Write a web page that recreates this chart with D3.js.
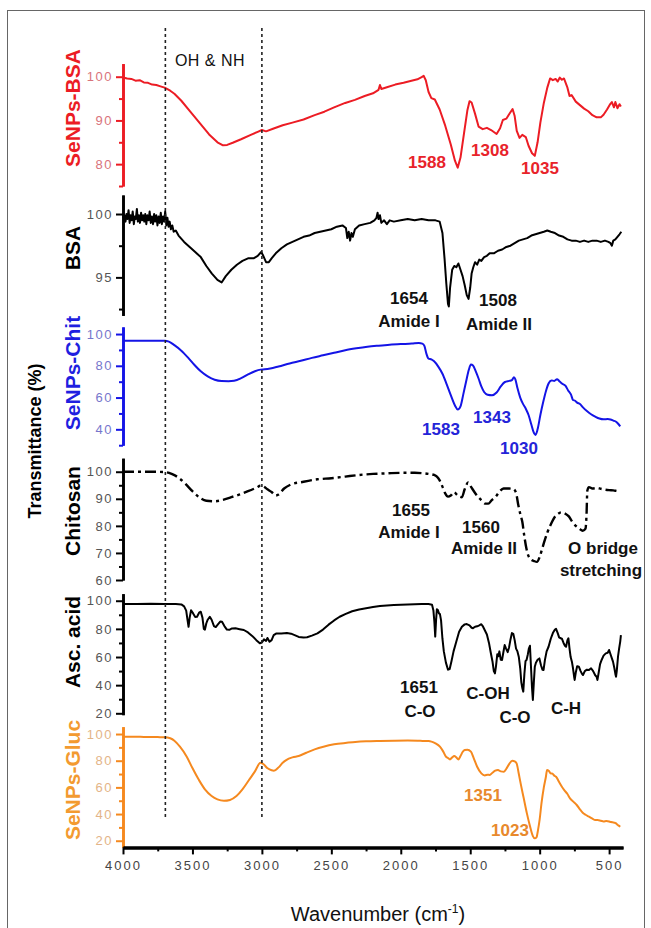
<!DOCTYPE html>
<html>
<head>
<meta charset="utf-8">
<script src="https://cdn.jsdelivr.net/npm/d3@7"></script>
<style>
  body { margin: 0; background: #fff; }
  svg text { font-family: "Liberation Sans", Arial, sans-serif; }
</style>
</head>
<body>
<div id="chart"></div>
<script>
// wavenumber axis
const wnTicks = [4000, 3500, 3000, 2500, 2000, 1500, 1000, 500];
const wnMinor = [3750, 3250, 2750, 2250, 1750, 1250, 750];
const regionLines = [3695, 3000];

// spectra, [wavenumber, transmittance %]
const seBsa = [[4000,99.8],[3970,99.6],[3940,99.5],[3910,99.1],[3880,99.2],[3850,98.7],[3820,98.6],[3790,98.2],[3760,98.1],[3730,97.8],[3700,97.5],[3660,96.8],[3630,96.1],[3580,94.5],[3520,92.2],[3450,89.5],[3380,86.8],[3320,85],[3280,84.3],[3250,84.4],[3210,84.9],[3150,85.7],[3080,86.7],[3030,87.4],[3000,87.8],[2970,87.5],[2920,88.1],[2850,88.9],[2780,89.5],[2700,90.2],[2620,91.2],[2550,92],[2480,93],[2400,94],[2330,94.7],[2260,95.6],[2200,96.2],[2160,97],[2150,98.1],[2140,97.2],[2100,97.6],[2040,98.2],[1980,98.6],[1930,99],[1880,99.4],[1850,99.9],[1835,100.2],[1820,99.2],[1800,96.5],[1780,95.1],[1755,94.8],[1720,92.5],[1680,88.8],[1640,84.5],[1610,80.8],[1590,79.2],[1570,81.5],[1545,87],[1520,92.4],[1505,94.4],[1490,94.1],[1465,91.5],[1440,88.6],[1410,88],[1380,88.3],[1350,87.8],[1310,86.9],[1285,88.2],[1265,90.1],[1240,90.4],[1220,91.4],[1195,92.6],[1180,91],[1165,87.6],[1145,86],[1125,86.7],[1100,86.2],[1080,84.2],[1055,82.5],[1035,81.9],[1015,85],[995,89.5],[970,94],[945,97.5],[925,99.6],[905,99.2],[885,99.5],[870,98.9],[855,99.8],[840,99.3],[825,99.6],[800,97.5],[785,95.6],[770,95.8],[740,94.3],[710,93.5],[680,92.7],[650,92.1],[620,91.2],[590,90.7],[560,90.7],[540,91.3],[515,92.5],[495,93.6],[480,94.2],[465,93],[455,94.2],[440,92.8],[425,93.7],[415,93.2]];

const bsa = [[4000,99.7],[3990,99.9],[3982,99.4],[3975,100],[3968,99.6],[3960,100.3],[3952,99.3],[3945,99.9],[3938,99.5],[3930,100.2],[3922,99.2],[3915,99.8],[3908,99.6],[3900,100.4],[3893,99.4],[3886,99.9],[3878,99.3],[3870,100.1],[3862,99.5],[3855,99.9],[3847,99.4],[3840,100],[3832,99.2],[3825,99.9],[3816,99.5],[3808,100.2],[3800,99.3],[3792,99.8],[3784,99.2],[3776,100],[3768,99.4],[3760,99.9],[3752,99.1],[3744,99.8],[3736,99.3],[3728,100.1],[3720,99.2],[3712,99.8],[3704,99.4],[3696,100.2],[3688,99.1],[3680,99.7],[3672,99],[3664,99.4],[3655,98.8],[3645,99.1],[3635,98.6],[3620,98.7],[3600,98.3],[3560,97.8],[3520,97.4],[3480,97],[3440,96.6],[3400,95.9],[3360,95.3],[3320,94.8],[3290,94.6],[3260,95.1],[3220,95.6],[3180,96],[3140,96.3],[3100,96.5],[3060,96.5],[3030,96.7],[3005,97],[2990,96.7],[2970,96.2],[2950,96.2],[2930,96.5],[2900,96.9],[2860,97.3],[2820,97.6],[2780,97.8],[2740,98],[2700,98.2],[2660,98.3],[2620,98.5],[2580,98.6],[2540,98.7],[2500,98.8],[2460,99],[2420,99.1],[2395,98.9],[2385,98.1],[2375,98.6],[2365,97.9],[2355,98.5],[2345,98.2],[2330,98.8],[2300,99.1],[2260,99.2],[2220,99.3],[2190,99.5],[2175,99.7],[2167,100.1],[2160,99.6],[2150,99.9],[2140,99.3],[2120,99.5],[2100,99.2],[2080,99.5],[2050,99.4],[2000,99.5],[1950,99.6],[1900,99.5],[1850,99.6],[1800,99.5],[1750,99.5],[1720,99.4],[1700,98.5],[1685,96.5],[1672,94.5],[1660,92.9],[1654,92.7],[1645,94.2],[1630,95.6],[1615,95.9],[1600,95.8],[1585,96.1],[1570,95.6],[1555,95.1],[1540,94.4],[1525,93.6],[1512,93.3],[1500,94.2],[1490,95.3],[1478,95.8],[1465,96.2],[1450,96],[1435,96.4],[1420,96.3],[1400,96.6],[1380,96.7],[1360,96.9],[1330,96.9],[1300,97.1],[1270,97.2],[1240,97.4],[1210,97.5],[1180,97.7],[1150,97.9],[1120,98],[1090,98.1],[1060,98.3],[1030,98.4],[1000,98.5],[970,98.6],[945,98.7],[920,98.6],[890,98.5],[860,98.3],[830,98.2],[800,98],[770,97.9],[740,97.9],[710,97.8],[680,97.9],[650,97.8],[620,97.9],[590,97.9],[560,97.8],[530,97.9],[505,97.8],[490,97.7],[480,97.5],[470,97.9],[455,98],[440,98.2],[425,98.4],[412,98.6]];

const seChit = [[4000,95.8],[3900,95.8],[3800,95.8],[3700,95.7],[3670,95.2],[3630,93],[3580,89.5],[3530,85],[3485,80.5],[3440,76.5],[3390,73.3],[3340,71.2],[3290,70.4],[3240,70.3],[3200,70.6],[3150,72.2],[3100,74.6],[3050,76.6],[3010,77.6],[2980,77.8],[2940,78.3],[2880,79.6],[2800,81.5],[2720,83.2],[2640,85],[2560,86.6],[2480,88.2],[2400,89.8],[2320,91],[2240,92],[2160,92.7],[2080,93.3],[2000,93.7],[1920,94],[1870,94.4],[1845,94],[1830,92.5],[1815,87.5],[1800,84.5],[1780,84],[1760,82.8],[1730,79.5],[1700,75],[1670,68.5],[1640,61.5],[1610,55],[1590,52.5],[1570,54.5],[1550,62],[1530,70],[1510,77.5],[1495,80.8],[1480,80.2],[1460,76.5],[1440,72],[1420,67],[1400,63.5],[1375,61.8],[1343,61.5],[1310,63.2],[1280,67],[1250,69.8],[1220,70.5],[1200,71],[1185,72.8],[1175,71.5],[1160,66],[1140,60],[1120,56],[1100,53],[1080,49],[1060,43],[1045,38.5],[1030,36.5],[1015,40],[995,49],[975,57],[955,64],[935,69],[915,70.8],[895,70.5],[875,71.5],[860,70.5],[840,68.8],[815,67.5],[795,64.5],[775,62],[760,58.5],[745,58],[730,56.8],[710,56],[690,54],[660,51.5],[630,49.5],[600,48],[570,46.8],[540,46.3],[510,46.5],[490,46.2],[470,45.5],[450,44.8],[435,43.5],[420,41.8]];

const chitosan = [[4000,100],[3900,100],[3800,100],[3700,99.9],[3650,99.2],[3600,97.8],[3550,95.5],[3500,92.8],[3450,90.5],[3400,89.3],[3340,89.1],[3280,89.6],[3220,90.6],[3160,91.6],[3100,92.8],[3040,94.1],[3010,94.8],[2990,94.6],[2960,93.5],[2930,92.5],[2900,91.2],[2880,91.6],[2840,93.8],[2795,95.2],[2700,96.3],[2600,97.2],[2500,97.6],[2400,98.2],[2300,98.8],[2200,99.2],[2100,99.4],[2000,99.6],[1900,99.6],[1800,99.2],[1760,98.8],[1740,98.2],[1720,96.8],[1700,94.5],[1680,92],[1660,90.8],[1640,91.2],[1617,92.5],[1590,91.2],[1560,90.6],[1540,93.5],[1515,96],[1495,94.5],[1470,92.5],[1445,90.8],[1420,89.5],[1390,88.2],[1370,88.2],[1345,89.5],[1316,90.8],[1290,92.6],[1260,93.8],[1220,93.8],[1190,93.6],[1170,92.2],[1155,88],[1140,84.5],[1125,81.5],[1110,76],[1095,71.5],[1080,68.8],[1060,67.5],[1040,67],[1020,66.7],[1000,68.5],[985,71],[970,73.6],[945,77.5],[920,80.5],[895,83],[870,84.3],[845,85],[815,84.5],[790,83.5],[765,81.5],[740,80],[715,79],[690,78.2],[670,79],[662,85],[657,93],[645,94.3],[620,93.8],[590,94],[560,93.7],[530,93.4],[500,93.2],[470,93.1],[445,92.9],[420,92.7]];

const ascAcid = [[4000,97.6],[3900,97.6],[3800,97.8],[3700,97.6],[3620,97.7],[3580,97.4],[3560,96],[3545,93],[3535,86],[3528,81.5],[3520,88],[3510,93.2],[3495,91],[3480,88.5],[3467,88.6],[3452,91.5],[3440,92.2],[3428,88],[3418,80],[3410,79.5],[3400,84],[3390,86.5],[3375,88.6],[3362,86.5],[3345,82],[3332,81.3],[3318,83],[3300,85.2],[3287,85],[3270,82],[3252,79.5],[3235,79.3],[3215,80.3],[3190,80.4],[3160,79.8],[3130,79.2],[3100,77.5],[3070,75],[3040,72],[3015,69.8],[3000,70.3],[2985,72.5],[2970,71.5],[2960,73.5],[2945,70.8],[2930,72],[2915,75.5],[2895,76.8],[2860,76.7],[2820,77],[2790,76.6],[2760,75.4],[2735,74.3],[2700,73.8],[2675,74],[2640,75.2],[2600,76.8],[2560,79.5],[2520,83],[2480,86],[2440,88.6],[2400,90.5],[2350,92.5],[2300,93.8],[2250,94.7],[2200,95.5],[2150,96.2],[2100,96.6],[2050,96.9],[2000,97.2],[1950,97.4],[1900,97.5],[1850,97.6],[1800,97.6],[1775,97.2],[1765,93],[1758,85],[1752,74.5],[1746,86],[1740,94],[1733,93.4],[1725,91],[1718,90.5],[1710,86],[1700,73],[1690,64],[1675,56],[1660,51],[1648,51.5],[1635,57],[1620,64],[1600,71],[1580,78],[1560,81.5],[1540,83.2],[1525,83.4],[1505,82.5],[1490,80.8],[1480,80.5],[1465,81.5],[1450,81.8],[1435,82.5],[1420,83.3],[1410,82],[1395,79],[1380,76],[1365,70],[1352,63],[1340,57],[1330,50],[1322,48.4],[1315,53],[1305,62],[1298,60.5],[1290,64],[1280,58],[1271,57.9],[1262,63],[1252,68.5],[1242,66],[1230,63.5],[1220,67],[1210,72.5],[1200,77],[1190,76.5],[1180,72],[1170,66],[1160,64],[1150,60],[1140,52],[1132,42],[1125,38],[1118,35.4],[1110,48],[1102,57],[1094,58],[1085,62],[1078,66],[1070,68],[1062,52],[1055,38],[1049,29.5],[1042,42],[1035,53],[1027,56],[1015,58],[1002,59],[990,54],[980,51],[972,50.8],[962,58],[950,64],[936,67.3],[920,73],[905,77],[890,79.5],[882,80],[870,77],[860,74],[853,73.5],[840,73],[828,70],[818,68],[810,67.3],[800,72],[793,73.3],[785,66],[777,60],[768,56.7],[760,52],[752,46],[748,43.7],[740,49],[730,53.5],[718,53.1],[705,50],[695,48],[688,47.2],[675,50],[660,51],[645,50.8],[630,52],[615,50],[600,47],[590,46],[584,43.7],[575,49],[565,55],[554,57.9],[540,61],[524,62.6],[510,63],[500,65],[490,62],[480,59],[472,56.7],[462,52],[455,48],[450,46],[445,50],[436,60.2],[428,66],[420,71],[415,75.6]];

const seGluc = [[4000,98],[3950,97.9],[3900,98],[3850,97.8],[3800,97.8],[3750,97.7],[3700,97.6],[3660,96.8],[3630,95],[3590,90.5],[3541,83],[3500,74.5],[3453,65.5],[3410,58.5],[3362,53.5],[3320,51],[3273,50],[3230,50.6],[3183,53.5],[3140,58.5],[3093,65.5],[3050,72],[3010,78.5],[2990,77.5],[2959,74.3],[2930,72.8],[2914,72.5],[2880,75],[2850,78.5],[2825,80.5],[2780,82.5],[2735,83.5],[2680,86],[2620,88.5],[2557,90.5],[2480,92.3],[2400,93.3],[2346,93.8],[2250,94.5],[2150,94.8],[2048,95],[1950,95.1],[1860,94.9],[1800,94.7],[1779,94.3],[1750,93],[1718,90.5],[1695,87],[1675,83],[1660,82],[1646,81],[1630,82.5],[1615,83.5],[1600,82.5],[1585,81],[1570,83.5],[1555,86.5],[1540,88],[1520,88.2],[1495,86.8],[1475,82],[1450,75.5],[1420,70.5],[1395,69],[1375,69.5],[1360,69.3],[1340,71],[1320,72.5],[1300,73],[1280,72],[1257,71.8],[1240,74],[1220,77.5],[1197,80],[1180,79.5],[1166,78],[1150,70],[1137,63],[1115,52],[1092,40.5],[1070,31],[1049,23.5],[1035,21.8],[1023,22.5],[1012,28],[1000,36],[987,48],[970,60],[955,68],[947,73],[935,72.5],[920,70.5],[910,70.5],[895,68.8],[882,68],[860,64],[840,60.5],[823,58],[800,55],[780,51.5],[760,49.5],[733,46.8],[710,43.5],[690,41],[670,39.5],[645,38],[620,36.5],[600,35.5],[584,35.5],[560,35],[540,34.5],[520,34.8],[494,34.3],[475,33.8],[460,33.5],[450,33],[440,32],[430,31.3],[420,30.5]];

// y ticks per panel
const seBsaTicks = [100, 90, 80], seBsaMinor = [95, 85, 75];
const bsaTicks = [100, 95], bsaMinor = [97.5, 92.5];
const seChitTicks = [100, 80, 60, 40], seChitMinor = [90, 70, 50, 30];
const chitTicks = [100, 90, 80, 70, 60], chitMinor = [95, 85, 75, 65];
const ascTicks = [100, 80, 60, 40, 20], ascMinor = [90, 70, 50, 30];
const glucTicks = [100, 80, 60, 40, 20], glucMinor = [90, 70, 50, 30];

const width = 651, height = 928;
const svg = d3.select('#chart').append('svg')
  .attr('width', width).attr('height', height);

svg.append('rect')
  .attr('x', 7.5).attr('y', 10.5).attr('width', 637).attr('height', 940)
  .attr('fill', 'none').attr('stroke', '#666').attr('stroke-width', 1);

const x = d3.scaleLinear().domain([4000, 400]).range([123, 623]);

const panels = [
  {name: 'SeNPs-BSA', data: seBsa, dom: [75, 103], rng: [186, 63.6], ticks: seBsaTicks, minor: seBsaMinor,
   color: '#ec1c24', tickColor: '#d9737b', labelColor: '#ec1c24', labelY: 108, curve: d3.curveLinear},
  {name: 'BSA', data: bsa, dom: [92, 101.5], rng: [315.4, 195], ticks: bsaTicks, minor: bsaMinor,
   color: '#000', tickColor: '#555', labelColor: '#000', labelY: 248, curve: d3.curveLinear},
  {name: 'SeNPs-Chit', data: seChit, dom: [30, 104.5], rng: [445.2, 326.9], ticks: seChitTicks, minor: seChitMinor,
   color: '#1414e6', tickColor: '#7676cc', labelColor: '#1f1fe0', labelY: 373, curve: d3.curveMonotoneX},
  {name: 'Chitosan', data: chitosan, dom: [60, 105], rng: [580, 458.2], ticks: chitTicks, minor: chitMinor,
   color: '#000', tickColor: '#555', labelColor: '#000', labelY: 511, curve: d3.curveMonotoneX, dash: '11,4,3,4'},
  {name: 'Asc. acid', data: ascAcid, dom: [19, 105], rng: [714.7, 593.7], ticks: ascTicks, minor: ascMinor,
   color: '#000', tickColor: '#555', labelColor: '#000', labelY: 642, curve: d3.curveLinear},
  {name: 'SeNPs-Gluc', data: seGluc, dom: [15, 105.5], rng: [847.4, 726.7], ticks: glucTicks, minor: glucMinor,
   color: '#f5891f', tickColor: '#e3b487', labelColor: '#f39a30', labelY: 780, curve: d3.curveMonotoneX}
];

panels.forEach(function(p) {
  const y = d3.scaleLinear().domain(p.dom).range(p.rng);
  const g = svg.append('g').attr('transform', 'translate(123,0)');
  g.call(d3.axisLeft(y).tickValues(p.minor).tickSize(4).tickSizeOuter(0).tickFormat(''));
  const ax = g.append('g').call(d3.axisLeft(y).tickValues(p.ticks).tickSize(7).tickSizeOuter(0).tickPadding(3));
  g.selectAll('path.domain').attr('stroke', p.color).attr('stroke-width', 2.6);
  g.selectAll('.tick line').attr('stroke', p.color).attr('stroke-width', 2);
  ax.selectAll('text')
    .style('font-size', '13px').style('letter-spacing', '1.5px')
    .attr('fill', p.tickColor);

  const line = d3.line().curve(p.curve).x(d => x(d[0])).y(d => y(d[1]));
  svg.append('path').datum(p.data)
    .attr('d', line)
    .attr('fill', 'none')
    .attr('stroke', p.color)
    .attr('stroke-width', p.dash ? 2.4 : 2)
    .attr('stroke-linejoin', 'round')
    .attr('stroke-dasharray', p.dash || null);

  svg.append('text')
    .attr('transform', `translate(80,${p.labelY}) rotate(-90)`)
    .attr('text-anchor', 'middle')
    .style('font-size', '21px').style('font-weight', 'bold')
    .attr('fill', p.labelColor)
    .text(p.name);
});

// x axis
const xg = svg.append('g').attr('transform', 'translate(0,847.4)');
xg.call(d3.axisBottom(x).tickValues(wnMinor).tickSize(4).tickSizeOuter(0).tickFormat(''));
const xa = xg.append('g').call(d3.axisBottom(x).tickValues(wnTicks).tickFormat(d3.format('d'))
  .tickSize(7).tickSizeOuter(0).tickPadding(6));
xg.selectAll('path.domain').attr('stroke-width', 3);
xg.selectAll('.tick line').attr('stroke-width', 2);
xa.selectAll('text').style('font-size', '13px').style('letter-spacing', '2px').attr('fill', '#444');

// OH & NH region
svg.selectAll('line.region').data(regionLines).enter().append('line')
  .attr('class', 'region')
  .attr('x1', d => x(d)).attr('x2', d => x(d))
  .attr('y1', 28).attr('y2', 820)
  .attr('stroke', '#222').attr('stroke-width', 1.6).attr('stroke-dasharray', '3,3');

svg.append('text').attr('x', 210).attr('y', 66).attr('text-anchor', 'middle')
  .style('font-size', '16px').style('letter-spacing', '0.5px').attr('fill', '#111')
  .text('OH & NH');

// axis titles
svg.append('text')
  .attr('transform', 'translate(41,441) rotate(-90)')
  .attr('text-anchor', 'middle')
  .style('font-size', '18px').style('font-weight', 'bold')
  .text('Transmittance (%)');

const xt = svg.append('text').attr('x', 378).attr('y', 921).attr('text-anchor', 'middle')
  .style('font-size', '20px').attr('fill', '#111');
xt.append('tspan').text('Wavenumber (cm');
xt.append('tspan').attr('dy', -8).style('font-size', '12px').text('-1');
xt.append('tspan').attr('dy', 8).text(')');

// peak annotations: [text, x, y, colour]
const red = '#e8232a', blue = '#2424d8', orange = '#e8892c';
const notes = [
  ['1588', 427, 168, red], ['1308', 490, 156, red], ['1035', 540, 174, red],
  ['1654', 409, 304, '#111'], ['Amide I', 409, 327, '#111'], ['1508', 498, 306, '#111'], ['Amide II', 499, 330, '#111'],
  ['1583', 441, 435, blue], ['1343', 492, 423, blue], ['1030', 519, 454, blue],
  ['1655', 411, 516, '#111'], ['Amide I', 409, 538, '#111'], ['1560', 481, 533, '#111'], ['Amide II', 484, 554, '#111'],
  ['O bridge', 603, 554, '#111'], ['stretching', 601, 576, '#111'],
  ['1651', 419, 693, '#111'], ['C-O', 420, 717, '#111'], ['C-OH', 488, 699, '#111'], ['C-O', 515, 723, '#111'], ['C-H', 566, 714, '#111'],
  ['1351', 483, 801, orange], ['1023', 510, 836, orange]
];
svg.selectAll('text.note').data(notes).enter().append('text')
  .attr('class', 'note')
  .attr('x', d => d[1]).attr('y', d => d[2])
  .attr('text-anchor', 'middle')
  .style('font-size', '17px').style('font-weight', 'bold')
  .attr('fill', d => d[3])
  .text(d => d[0]);
</script>
</body>
</html>
